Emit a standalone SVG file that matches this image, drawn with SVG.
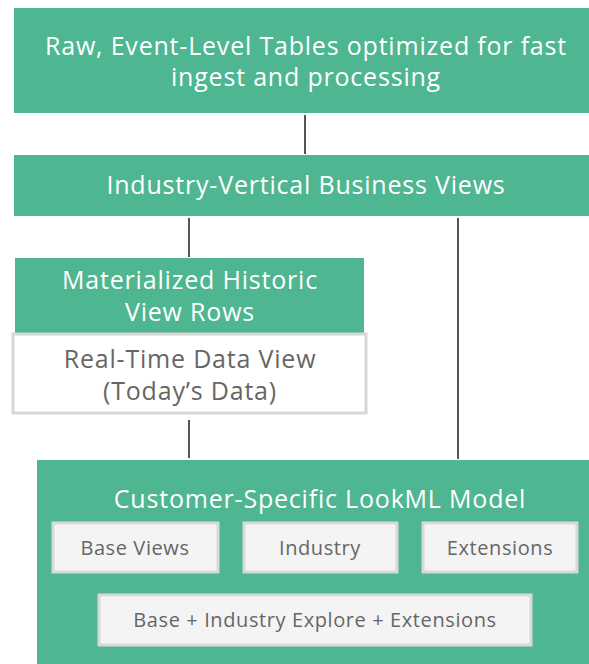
<svg xmlns="http://www.w3.org/2000/svg" width="589" height="664" viewBox="0 0 589 664">
<style>
.g{fill:#4eb690}
.w{fill:#fff;stroke:#d6d6d6;stroke-width:3}
.b{fill:#f4f4f4;stroke:#d9d9d9;stroke-width:3}
.t{font-family:"Open Sans","Noto Sans",sans-serif;text-anchor:middle}
.lw{fill:#fff;font-size:25px;letter-spacing:0.8px}
.lg{fill:#666;font-size:25px;letter-spacing:0.8px}
.sg{fill:#666;font-size:20px;letter-spacing:0.6px}
.c{stroke:#555;stroke-width:2;fill:none}
</style>
<rect width="589" height="664" fill="#fff"/>
<g id="connectors">
<line class="c" x1="305" y1="115" x2="305" y2="154"/>
<line class="c" x1="189" y1="218" x2="189" y2="257"/>
<line class="c" x1="458" y1="218" x2="458" y2="459"/>
<line class="c" x1="189" y1="420" x2="189" y2="458"/>
</g>
<g id="raw">
<rect class="g" x="14" y="8" width="575" height="105"/>
<text class="t lw" x="306" y="55">Raw, Event-Level Tables optimized for fast</text>
<text class="t lw" x="306" y="86">ingest and processing</text>
</g>
<g id="industry-vertical">
<rect class="g" x="14" y="155" width="575" height="61"/>
<text class="t lw" x="306" y="194">Industry-Vertical Business Views</text>
</g>
<g id="materialized">
<rect class="g" x="15" y="258" width="349" height="75"/>
<text class="t lw" x="190" y="289">Materialized Historic</text>
<text class="t lw" x="190" y="321">View Rows</text>
</g>
<g id="realtime">
<rect class="w" x="13" y="334" width="353" height="79"/>
<text class="t lg" x="190" y="368">Real-Time Data View</text>
<text class="t lg" x="190" y="400">(Today’s Data)</text>
</g>
<g id="customer-model">
<rect class="g" x="37" y="460" width="552" height="204"/>
<text class="t lw" x="320" y="508">Customer-Specific LookML Model</text>
</g>
<g id="base-views">
<rect class="b" x="53" y="523" width="165" height="49"/>
<text class="t sg" x="135" y="555">Base Views</text>
</g>
<g id="industry">
<rect class="b" x="244" y="523" width="153" height="49"/>
<text class="t sg" x="320" y="555">Industry</text>
</g>
<g id="extensions">
<rect class="b" x="423" y="523" width="154" height="49"/>
<text class="t sg" x="500" y="555">Extensions</text>
</g>
<g id="explore">
<rect class="b" x="99" y="595" width="432" height="50"/>
<text class="t sg" x="315" y="627">Base + Industry Explore + Extensions</text>
</g>
</svg>
